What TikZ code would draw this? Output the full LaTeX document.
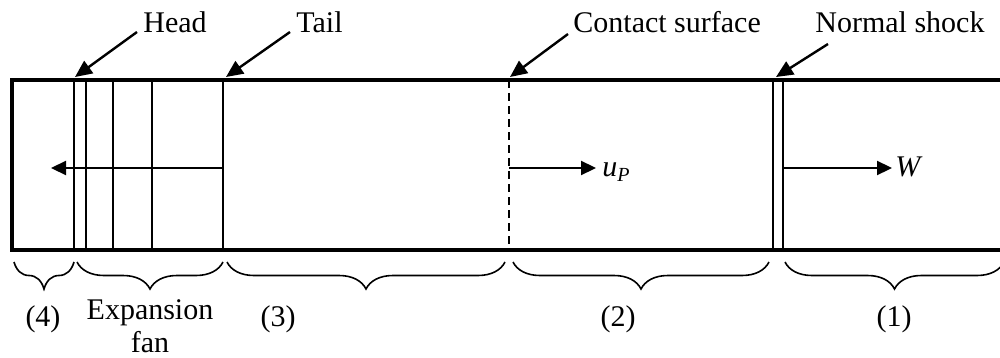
\documentclass[tikz,border=0pt]{standalone}
\usepackage{fontspec}
\setmainfont{Liberation Serif}
\usetikzlibrary{arrows.meta,decorations.pathreplacing}
\begin{document}
\begin{tikzpicture}[x=0.5pt,y=-0.5pt,
  box/.style={line width=1.9pt},
  wave/.style={line width=1pt},
  contact/.style={line width=1pt,dash pattern=on 4pt off 2.5pt},
  ptr/.style={line width=1.2pt,-{Triangle[length=8.5pt,width=7.5pt]}},
  vel/.style={line width=1.1pt,-{Triangle[length=7.5pt,width=7pt]}},
  brc/.style={line width=0.8pt,decorate,decoration={brace,mirror,amplitude=13.5pt}},
  lbl/.style={font=\fontsize{15}{18}\selectfont,inner sep=0pt}]
\useasboundingbox (0,0) rectangle (1000,358);
% tube
\coordinate (TL) at (12,80); \coordinate (BL) at (12,250);
\coordinate (TR) at (1001,80); \coordinate (BR) at (1001,250);
\draw[box] (TR) -- (TL) -- (BL) -- (BR);
% expansion fan lines
\foreach \n/\x in {h/74,f1/86,f2/113,f3/152,t/223}{
  \coordinate (\n top) at (\x,80); \coordinate (\n bot) at (\x,250);
  \draw[wave] (\n top) -- (\n bot);
}
% contact surface
\coordinate (ctop) at (509,80); \coordinate (cbot) at (509,250);
\draw[contact] (ctop) -- (cbot);
% normal shock
\coordinate (s1top) at (773,80); \coordinate (s1bot) at (773,250);
\coordinate (s2top) at (783,80); \coordinate (s2bot) at (783,250);
\draw[wave] (s1top) -- (s1bot);
\draw[wave] (s2top) -- (s2bot);
% velocity arrows
\coordinate (lfrom) at (223,168); \coordinate (lto) at (51,168);
\draw[vel] (lfrom) -- (lto);
\coordinate (ufrom) at (509,168); \coordinate (uto) at (596,168);
\draw[vel] (ufrom) -- (uto);
\node[lbl,anchor=base west] (up) at (602,176) {\textit{u}{\fontsize{10}{10}\selectfont\raisebox{-2.5pt}{\textit{P}}}};
\coordinate (wfrom) at (783,168); \coordinate (wto) at (892,168);
\draw[vel] (wfrom) -- (wto);
\node[lbl,anchor=base west] (W) at (895,176) {\textit{W}};
% top labels
\node[lbl,anchor=base west] (head) at (143,33) {Head};
\node[lbl,anchor=base west] (tail) at (296,33) {Tail};
\node[lbl,anchor=base west] (cs) at (573,33) {Contact surface};
\node[lbl,anchor=base west] (ns) at (815,33) {Normal shock};
\coordinate (headp) at (137,32); \coordinate (headt) at (75,77);
\draw[ptr] (headp) -- (headt);
\coordinate (tailp) at (290,32); \coordinate (tailt) at (226,77);
\draw[ptr] (tailp) -- (tailt);
\coordinate (csp) at (568,34); \coordinate (cst) at (510,77);
\draw[ptr] (csp) -- (cst);
\coordinate (nsp) at (828,44); \coordinate (nst) at (776,77);
\draw[ptr] (nsp) -- (nst);
% braces
\coordinate (b4a) at (14,262); \coordinate (b4b) at (74,262);
\coordinate (bfa) at (77,262); \coordinate (bfb) at (223,262);
\coordinate (b3a) at (227,262); \coordinate (b3b) at (505,262);
\coordinate (b2a) at (513,262); \coordinate (b2b) at (769,262);
\coordinate (b1a) at (785,262); \coordinate (b1b) at (1004,262);
\draw[brc] (b4a) -- (b4b);
\draw[brc] (bfa) -- (bfb);
\draw[brc] (b3a) -- (b3b);
\draw[brc] (b2a) -- (b2b);
\draw[brc] (b1a) -- (b1b);
% region labels
\node[lbl,anchor=base] (r4) at (43,326) {(4)};
\node[lbl,anchor=base] (fanA) at (150,319) {Expansion};
\node[lbl,anchor=base] (fanB) at (150,352) {fan};
\node[lbl,anchor=base] (r3) at (278,326) {(3)};
\node[lbl,anchor=base] (r2) at (618,326) {(2)};
\node[lbl,anchor=base] (r1) at (894,326) {(1)};
\end{tikzpicture}
\end{document}
